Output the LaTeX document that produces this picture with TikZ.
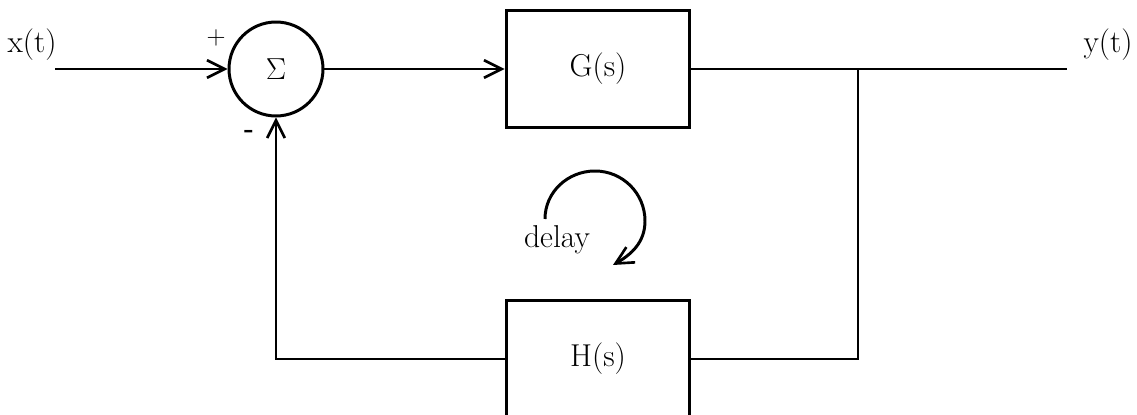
\documentclass[tikz,border=0pt]{standalone}
\usetikzlibrary{arrows.meta}
\tikzset{
  blk/.style={draw, line width=1.7pt, minimum width=3.68cm, minimum height=2.36cm, inner sep=0pt, font=\fontsize{18}{21}\selectfont},
  sumnode/.style={draw, circle, line width=1.7pt, minimum size=1.88cm, inner sep=0pt, font=\fontsize{18}{21}\selectfont},
  wire/.style={line width=1.7pt},
  arr/.style={line width=1.7pt, -{Straight Barb[length=10pt,width=10pt,line width=1.5pt]}},
  lbl/.style={inner sep=0pt, font=\fontsize{18}{21}\selectfont},
  sgn/.style={inner sep=0pt, font=\fontsize{15}{17}\selectfont}
}
\begin{document}
\begin{tikzpicture}[x=0.02cm, y=-0.02cm]
\useasboundingbox (0,0) rectangle (1137,415);
\node[sumnode] (sum) at (276,69) {$\mathrm{\Sigma}$};
\node[blk] (G) at (598,69) {G(s)};
\node[blk] (H) at (598,359) {H(s)};
\node[lbl] (x) at (32,45) {x(t)};
\node[lbl] (y) at (1108,45) {y(t)};
\node[sgn] (plus) at (216,38) {+};
\node[sgn] (minus) at (249,134) {\textbf{-}};
\node[lbl] (delay) at (557,240) {delay};
\coordinate (xin) at (55,69);
\coordinate (j) at (858,69);
\coordinate (yout) at (1067,69);
\coordinate (fb) at (276,359);
\draw[arr] (xin) -- (sum.west);
\draw[arr] (sum.east) -- (G.west);
\draw[wire] (G.east) -- (yout);
\draw[wire] (j) |- (H.east);
\draw[arr] (H.west) -- (fb) -- (sum.south);
\coordinate (d0) at (545,219);
\coordinate (d1) at (595,171);
\coordinate (d2) at (645,221);
\coordinate (d3) at (613,265);
\draw[arr] (d0) to[out=90,in=180] (d1) to[out=0,in=90] (d2) to[out=-90,in=30] (d3);
\end{tikzpicture}
\end{document}
